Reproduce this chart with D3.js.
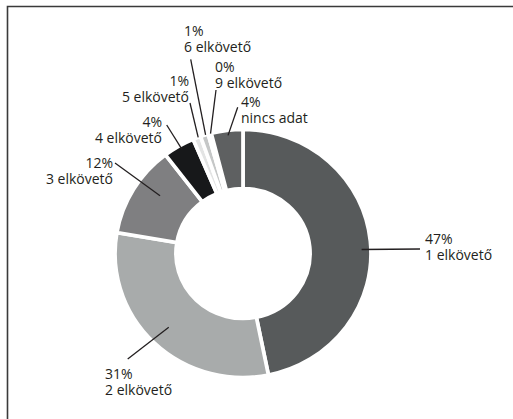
<!DOCTYPE html>
<html>
<head>
<meta charset="utf-8">
<script src="https://cdn.jsdelivr.net/npm/d3@7"></script>
<style>
  html, body { margin: 0; padding: 0; background: #fff; }
  svg { display: block; }
  text { font-family: "Open Sans", "Noto Sans", sans-serif; font-size: 14px; fill: #231f20; }
</style>
</head>
<body>
<svg id="chart" width="513" height="419"></svg>
<script>
// ---- data ----
const categories = ["1 elkövető", "2 elkövető", "3 elkövető", "4 elkövető", "5 elkövető", "6 elkövető", "9 elkövető", "nincs adat"];
const shares = [47, 31, 12, 4, 1, 1, 0.4, 4];
const percentLabels = ["47%", "31%", "12%", "4%", "1%", "1%", "0%", "4%"];
const colors = ["#575a5b", "#a8abab", "#7f7f81", "#17181a", "#e3e4e4", "#c5c7c7", "#a0a2a3", "#5e6061"];

// ---- layout (label placement) ----
const cx = 243, cy = 253.5, rOuter = 124, rInner = 65, sx = 1.032;
const labelLayout = [
  { ang: 88,    r: 115, ox: 420,   oy: 249,   tx: 425, ty: 244, anchor: "start" },
  { ang: 224.3, r: 103, ox: 127.7, oy: 359,   tx: 105, ty: 379, anchor: "start" },
  { ang: 305.7, r: 99,  ox: 115,   oy: 163,   tx: 113, ty: 168, anchor: "end" },
  { ang: 330.4, r: 120, ox: 166.7, oy: 125,   tx: 162, ty: 127, anchor: "end" },
  { ang: 339.5, r: 124, ox: 190,   oy: 103,   tx: 189, ty: 86,  anchor: "end" },
  { ang: 343,   r: 124, ox: 190.7, oy: 59.3,  tx: 184, ty: 36,  anchor: "start" },
  { ang: 345.3, r: 124, ox: 216,   oy: 90,    tx: 215, ty: 72,  anchor: "start" },
  { ang: 353,   r: 119, ox: 237.7, oy: 107.3, tx: 241, ty: 107, anchor: "start" }
];

const svg = d3.select("#chart");

// frame
svg.append("path")
  .attr("d", "M7.5,419 L7.5,6.5 L513,6.5")
  .attr("fill", "none")
  .attr("stroke", "#3a3a3a")
  .attr("stroke-width", 1.6);

const pie = d3.pie().sort(null).value(d => d)(shares);
const arc = d3.arc().innerRadius(rInner).outerRadius(rOuter);

const g = svg.append("g").attr("transform", `translate(${cx},${cy}) scale(${sx},1)`);
g.selectAll("path.slice")
  .data(pie)
  .join("path")
  .attr("class", "slice")
  .attr("d", arc)
  .attr("fill", (d, i) => colors[i])
  .attr("stroke", "#fff")
  .attr("stroke-width", 3.6)
  .attr("stroke-linejoin", "miter");

// leaders and labels
const lg = svg.append("g");
categories.forEach((c, i) => {
  const L = labelLayout[i];
  const a = L.ang * Math.PI / 180;
  const x0 = cx + sx * L.r * Math.sin(a);
  const y0 = cy - L.r * Math.cos(a);
  lg.append("line")
    .attr("x1", x0).attr("y1", y0)
    .attr("x2", L.ox).attr("y2", L.oy)
    .attr("stroke", "#231f20")
    .attr("stroke-width", 1.3);
  const t = lg.append("text")
    .attr("x", L.tx).attr("y", L.ty)
    .attr("text-anchor", L.anchor);
  t.append("tspan").attr("x", L.tx).attr("y", L.ty).text(percentLabels[i]);
  t.append("tspan").attr("x", L.tx).attr("y", L.ty + 15.5).text(c);
});
</script>
</body>
</html>
